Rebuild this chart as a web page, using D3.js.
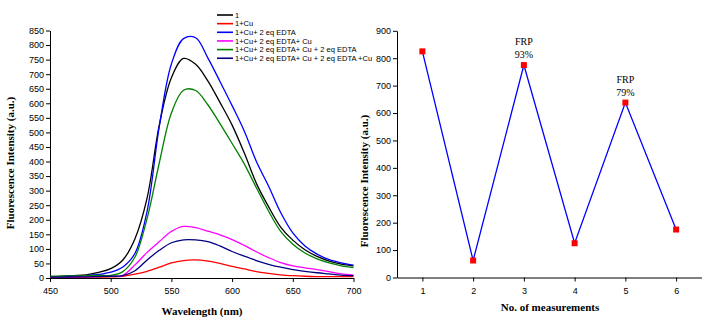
<!DOCTYPE html>
<html lang="en">
<head>
  <meta charset="UTF-8">
  <title>Fluorescence spectra and reversibility</title>
  <style>
    body { margin: 0; padding: 0; background: #fff; }
    svg { display: block; }
    .tick text { font: 9px "Liberation Sans", Arial, sans-serif; fill: #000; }
    .axis path, .axis line { stroke: #000; stroke-width: 1; }
    .title { font: bold 11px "Liberation Serif", "Times New Roman", serif; fill: #000; }
    .legend text { font: 7.5px "Liberation Sans", Arial, sans-serif; fill: #000; }
    .note { font: 10px "Liberation Serif", "Times New Roman", serif; fill: #000; }
  </style>
</head>
<body>
  <svg id="chart" width="709" height="326"></svg>

  <script src="https://d3js.org/d3.v7.min.js"></script>
  <script>
  // emission spectra (nm, a.u.)
  const wavelengths = [450,460,470,480,490,500,510,520,530,540,550,560,570,580,590,600,610,620,630,640,650,660,670,680,690,700];
  const seriesNames = [
    "1",
    "1+Cu",
    "1+Cu+ 2 eq EDTA",
    "1+Cu+ 2 eq EDTA+ Cu",
    "1+Cu+ 2 eq EDTA+ Cu + 2 eq EDTA",
    "1+Cu+ 2 eq EDTA+ Cu + 2 eq EDTA +Cu"
  ];
  const seriesColors = ["#000000", "#ff0000", "#0000ff", "#ff00ff", "#008000", "#000080"];
  const free      = [5,6,8,11,19,32,62,135,275,525,688,754,734,677,603,525,430,325,245,175,130,97,74,58,48,42];
  const withCu    = [2,2,2,3,3,4,6,13,23,37,52,60,62,58,50,40,31,22,16,11,8,6,5,5,5,5];
  const edta1     = [4,5,6,8,12,20,38,85,230,520,735,822,825,756,675,592,505,400,316,225,155,110,82,63,52,44];
  const cu2       = [3,3,4,4,5,6,9,45,88,125,160,177,173,161,148,132,112,90,70,53,42,35,29,22,14,10];
  const edta2     = [6,6,7,8,9,9,22,72,205,395,567,645,644,595,530,462,392,310,230,160,116,86,66,52,42,36];
  const cu3       = [3,3,4,4,5,6,8,25,62,95,121,131,131,125,110,91,75,60,47,37,29,23,18,14,10,8];
  const spectra   = [free, withCu, edta1, cu2, edta2, cu3];

  // on/off cycling
  const cycles      = [1, 2, 3, 4, 5, 6];
  const cycleValues = [825, 62, 775, 125, 638, 175];
  const frpCycles   = [3, 5];
  const frpLabels   = ["93%", "79%"];

  (function(){
    const svg = d3.select("#chart");

    // ---------- left panel: spectra ----------
    const x1 = d3.scaleLinear().domain([450, 700]).range([50, 353.5]);
    const y1 = d3.scaleLinear().domain([0, 850]).range([278, 30.5]);

    const gx1 = svg.append("g").attr("class", "axis").attr("transform", `translate(0,${y1(0)})`);
    gx1.call(d3.axisBottom(x1).tickValues(d3.range(450, 701, 25)).tickSize(2).tickFormat(""));
    gx1.call(d3.axisBottom(x1).tickValues(d3.range(450, 701, 50)).tickSize(4).tickPadding(6).tickSizeOuter(0));

    const gy1 = svg.append("g").attr("class", "axis").attr("transform", `translate(${x1(450)},0)`);
    gy1.call(d3.axisLeft(y1).tickValues(d3.range(0, 851, 25)).tickSize(2).tickFormat(""));
    gy1.call(d3.axisLeft(y1).tickValues(d3.range(0, 851, 50)).tickSize(4).tickPadding(2).tickSizeOuter(0));

    const line1 = d3.line()
      .x((d, i) => x1(wavelengths[i]))
      .y(d => y1(d))
      .curve(d3.curveCatmullRom.alpha(0.5));

    svg.append("g")
      .selectAll("path")
      .data(spectra)
      .join("path")
        .attr("fill", "none")
        .attr("stroke", (d, i) => seriesColors[i])
        .attr("stroke-width", 1.3)
        .attr("d", line1);

    // legend
    const legend = svg.append("g").attr("class", "legend");
    const row = legend.selectAll("g")
      .data(seriesNames)
      .join("g")
        .attr("transform", (d, i) => `translate(217,${15 + i * 8.65})`);
    row.append("line")
      .attr("x1", 0).attr("x2", 16)
      .attr("stroke", (d, i) => seriesColors[i])
      .attr("stroke-width", 1.6);
    row.append("text")
      .attr("x", 18)
      .attr("dy", "0.35em")
      .text(d => d);

    svg.append("text")
      .attr("class", "title")
      .attr("text-anchor", "middle")
      .attr("x", 202).attr("y", 315)
      .text("Wavelength (nm)");
    svg.append("text")
      .attr("class", "title")
      .attr("text-anchor", "middle")
      .attr("transform", "translate(14,163) rotate(-90)")
      .text("Fluorescence Intensity (a.u.)");

    // ---------- right panel: cycling ----------
    const x2 = d3.scaleLinear().domain([0.5, 6.5]).range([397, 701.5]);
    const y2 = d3.scaleLinear().domain([0, 900]).range([277.5, 30.8]);

    const gx2 = svg.append("g").attr("class", "axis").attr("transform", `translate(0,${y2(0)})`);
    gx2.call(d3.axisBottom(x2).tickValues(d3.range(0.5, 6.51, 0.5)).tickSize(2).tickFormat(""));
    gx2.call(d3.axisBottom(x2).tickValues(cycles).tickSize(4).tickPadding(6).tickSizeOuter(0).tickFormat(d3.format("d")));

    const gy2 = svg.append("g").attr("class", "axis").attr("transform", `translate(${x2(0.5)},0)`);
    gy2.call(d3.axisLeft(y2).tickValues(d3.range(0, 901, 50)).tickSize(2).tickFormat(""));
    gy2.call(d3.axisLeft(y2).tickValues(d3.range(0, 901, 100)).tickSize(4).tickPadding(2).tickSizeOuter(0));

    const line2 = d3.line()
      .x((d, i) => x2(cycles[i]))
      .y(d => y2(d));

    svg.append("path")
      .datum(cycleValues)
      .attr("fill", "none")
      .attr("stroke", "#0000ff")
      .attr("stroke-width", 1.3)
      .attr("d", line2);

    svg.append("g")
      .selectAll("rect")
      .data(cycleValues)
      .join("rect")
        .attr("x", (d, i) => x2(cycles[i]) - 3)
        .attr("y", d => y2(d) - 3)
        .attr("width", 6)
        .attr("height", 6)
        .attr("fill", "#ff0000");

    // recovery annotations above the re-enabled peaks
    const notes = svg.append("g");
    frpCycles.forEach((c, k) => {
      const v = cycleValues[cycles.indexOf(c)];
      notes.append("text").attr("class", "note")
        .attr("text-anchor", "middle")
        .attr("x", x2(c)).attr("y", y2(v) - 20)
        .text("FRP");
      notes.append("text").attr("class", "note")
        .attr("text-anchor", "middle")
        .attr("x", x2(c)).attr("y", y2(v) - 7)
        .text(frpLabels[k]);
    });

    svg.append("text")
      .attr("class", "title")
      .attr("text-anchor", "middle")
      .attr("x", 550).attr("y", 311)
      .text("No. of measurements");
    svg.append("text")
      .attr("class", "title")
      .attr("text-anchor", "middle")
      .attr("transform", "translate(368,181) rotate(-90)")
      .text("Fluorescence Intensity (a.u.)");

    svg.selectAll(".axis .domain").attr("stroke-width", 1.2);
  })();
  </script>
</body>
</html>
